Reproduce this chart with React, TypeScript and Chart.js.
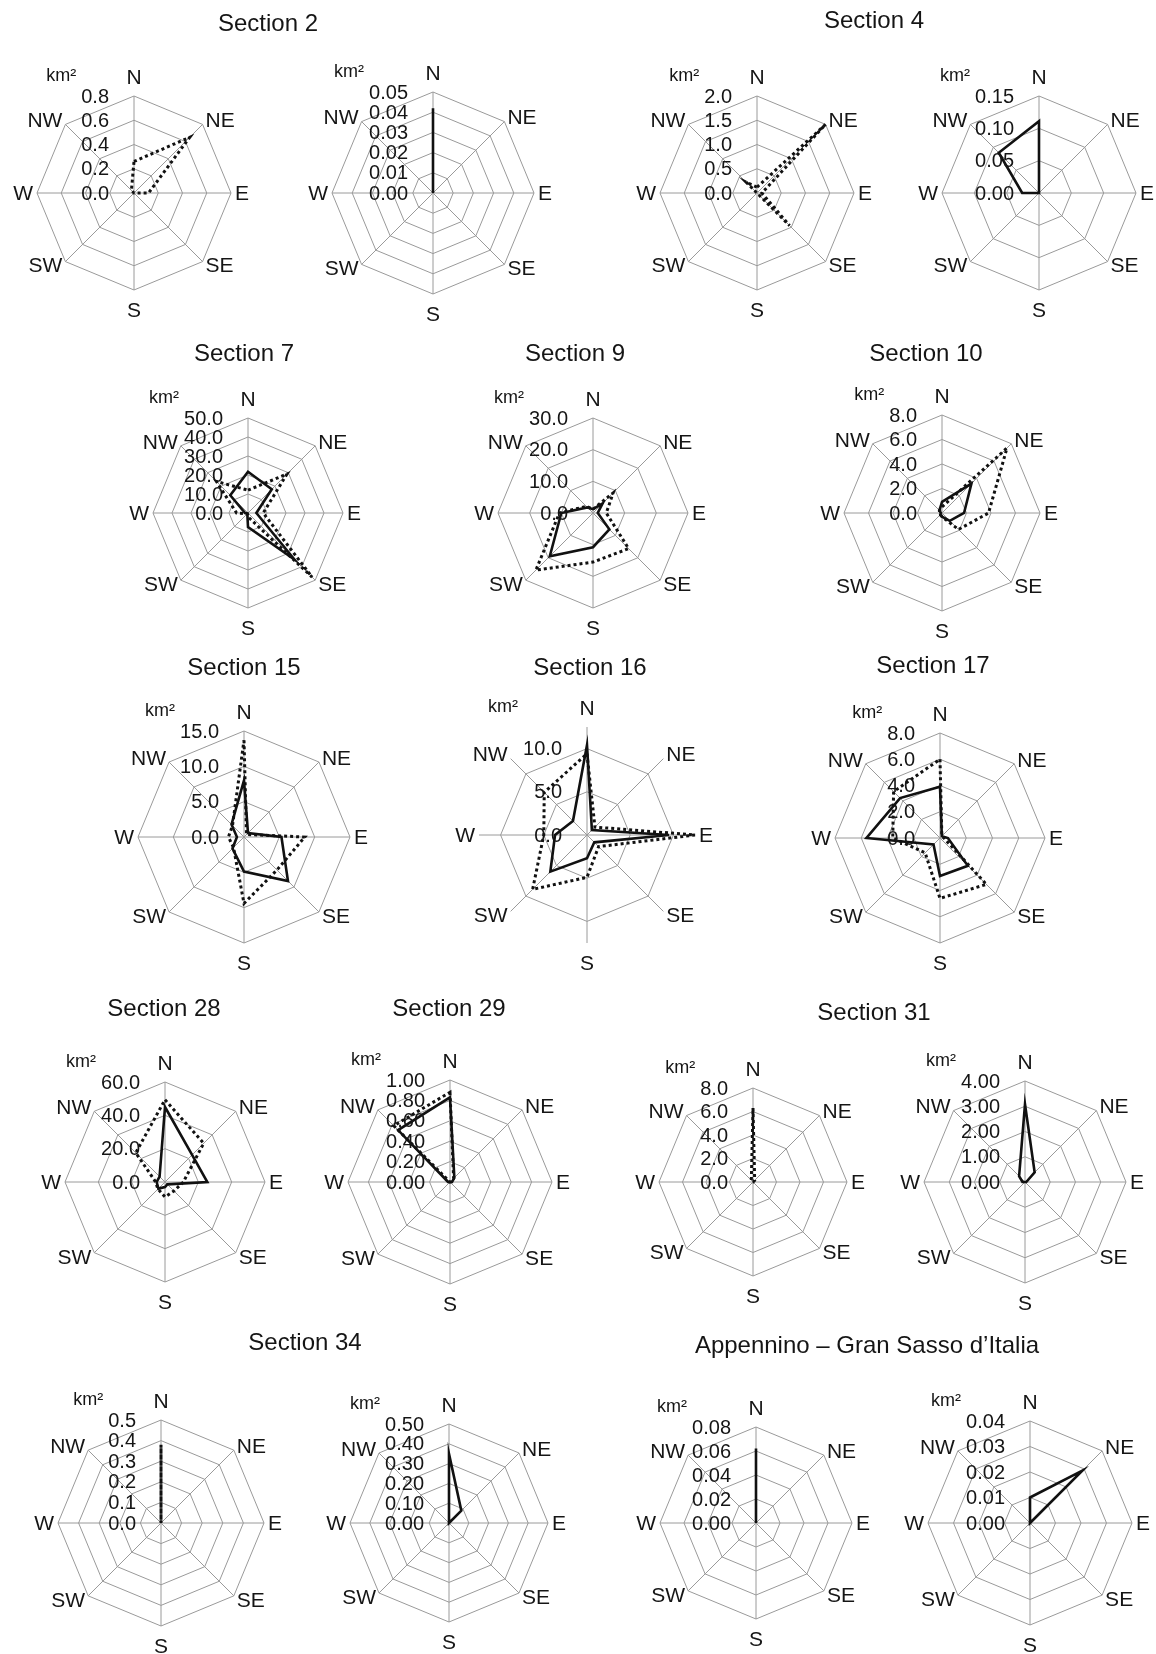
import React, { useEffect, useRef } from "react";
import { Chart, registerables } from "chart.js";
Chart.register(...registerables);

const FONT = '"Liberation Sans", Arial, Helvetica, sans-serif';
const TEXT = "#151515";
const GRID = "#9a9a9a";

const directions = ["N", "NE", "E", "SE", "S", "SW", "W", "NW"];

// ---- data (order: N, NE, E, SE, S, SW, W, NW) ----
const s2aDotted = [0.26, 0.65, 0.12, 0, 0, 0, 0, 0.03];
const s2aTicks = ["0.0", "0.2", "0.4", "0.6", "0.8"];

const s2bSolid = [0.042, 0, 0, 0, 0, 0, 0, 0];
const s2bTicks = ["0.00", "0.01", "0.02", "0.03", "0.04", "0.05"];

const s4aDotted = [0.12, 2.0, 0.1, 0.95, 0, 0, 0, 0.32];
const s4aTicks = ["0.0", "0.5", "1.0", "1.5", "2.0"];

const s4bSolid = [0.111, 0, 0, 0, 0, 0, 0.026, 0.088];
const s4bTicks = ["0.00", "0.05", "0.10", "0.15"];

const s7Solid = [21.7, 17.7, 4.4, 34.6, 7.4, 0.5, 1.5, 13.2];
const s7Dotted = [12, 29, 8, 47.7, 2, 0.5, 6, 23.5];
const s7Ticks = ["0.0", "10.0", "20.0", "30.0", "40.0", "50.0"];

const s9Solid = [1.2, 4.3, 1.5, 7.3, 10.8, 19.3, 10, 2.5];
const s9Dotted = [1.2, 9, 4.2, 15.9, 15.5, 25.5, 10.6, 3];
const s9Ticks = ["0.0", "10.0", "20.0", "30.0"];

const s10Solid = [0.9, 3.4, 1.8, 0.9, 0.3, 0.2, 0.1, 0.3];
const s10Dotted = [0.5, 7.5, 3.8, 1.9, 0.3, 0.2, 0.2, 0.3];
const s10Ticks = ["0.0", "2.0", "4.0", "6.0", "8.0"];

const s15Solid = [8.0, 0.8, 5.3, 8.8, 4.9, 2.3, 1.0, 2.5];
const s15Dotted = [13.7, 0.5, 8.6, 6.6, 9.4, 2.1, 2.2, 2.3];
const s15Ticks = ["0.0", "5.0", "10.0", "15.0"];

const s16Solid = [10.4, 0.8, 9.5, 1.2, 2.7, 6.0, 3.7, 2.3];
const s16Dotted = [9.4, 1.3, 12.5, 1.9, 4.9, 8.9, 5.0, 7.0];
const s16Ticks = ["0.0", "5.0", "10.0"];

const s17Solid = [3.9, 0.2, 0.6, 3.0, 2.9, 0.7, 5.6, 4.3];
const s17Dotted = [6.0, 0.2, 0.3, 5.0, 4.6, 1.6, 3.6, 5.0];
const s17Ticks = ["0.0", "2.0", "4.0", "6.0", "8.0"];

const s28Solid = [45, 23, 25.4, 2, 3, 5.6, 5, 4.6];
const s28Dotted = [49.4, 32.8, 11, 7.6, 9, 6, 5.6, 24.8];
const s28Ticks = ["0.0", "20.0", "40.0", "60.0"];

const s29Solid = [0.83, 0.06, 0.02, 0, 0, 0, 0.02, 0.72];
const s29Dotted = [0.88, 0.05, 0, 0, 0, 0, 0, 0.78];
const s29Ticks = ["0.00", "0.20", "0.40", "0.60", "0.80", "1.00"];

const s31aDotted = [6.3, 0.2, 0, 0, 0, 0, 0.1, 0.2];
const s31aTicks = ["0.0", "2.0", "4.0", "6.0", "8.0"];

const s31bSolid = [3.08, 0.54, 0.05, 0, 0, 0, 0.1, 0.33];
const s31bTicks = ["0.00", "1.00", "2.00", "3.00", "4.00"];

const s34aDotted = [0.38, 0, 0, 0, 0, 0, 0, 0];
const s34aTicks = ["0.0", "0.1", "0.2", "0.3", "0.4", "0.5"];

const s34bSolid = [0.35, 0.088, 0, 0, 0, 0, 0, 0];
const s34bTicks = ["0.00", "0.10", "0.20", "0.30", "0.40", "0.50"];

const ap1Solid = [0.062, 0, 0, 0, 0, 0, 0, 0];
const ap1Ticks = ["0.00", "0.02", "0.04", "0.06", "0.08"];

const ap2Solid = [0.01, 0.029, 0, 0, 0, 0, 0, 0];
const ap2Ticks = ["0.00", "0.01", "0.02", "0.03", "0.04"];

const titles: { text: string; x: number; y: number }[] = [
  { text: "Section 2", x: 268, y: 23 },
  { text: "Section 4", x: 874, y: 20 },
  { text: "Section 7", x: 244, y: 353 },
  { text: "Section 9", x: 575, y: 353 },
  { text: "Section 10", x: 926, y: 353 },
  { text: "Section 15", x: 244, y: 667 },
  { text: "Section 16", x: 590, y: 667 },
  { text: "Section 17", x: 933, y: 665 },
  { text: "Section 28", x: 164, y: 1008 },
  { text: "Section 29", x: 449, y: 1008 },
  { text: "Section 31", x: 874, y: 1012 },
  { text: "Section 34", x: 305, y: 1342 },
  { text: "Appennino \u2013 Gran Sasso d\u2019Italia", x: 867, y: 1345 },
];

type Panel = {
  cx: number;
  cy: number;
  r: number;
  ticks: string[];
  max: number;
  step: number;
  dotted?: number[];
  solid?: number[];
};

const panels: Panel[] = [
  { cx: 134, cy: 193, r: 97, ticks: s2aTicks, max: 0.8, step: 0.2, dotted: s2aDotted },
  { cx: 433, cy: 193, r: 101, ticks: s2bTicks, max: 0.05, step: 0.01, solid: s2bSolid },
  { cx: 757, cy: 193, r: 97, ticks: s4aTicks, max: 2.0, step: 0.5, dotted: s4aDotted },
  { cx: 1039, cy: 193, r: 97, ticks: s4bTicks, max: 0.15, step: 0.05, solid: s4bSolid },

  { cx: 248, cy: 513, r: 95, ticks: s7Ticks, max: 50, step: 10, solid: s7Solid, dotted: s7Dotted },
  { cx: 593, cy: 513, r: 95, ticks: s9Ticks, max: 30, step: 10, solid: s9Solid, dotted: s9Dotted },
  { cx: 942, cy: 513, r: 98, ticks: s10Ticks, max: 8, step: 2, solid: s10Solid, dotted: s10Dotted },

  { cx: 244, cy: 837, r: 106, ticks: s15Ticks, max: 15, step: 5, solid: s15Solid, dotted: s15Dotted },
  { cx: 587, cy: 835, r: 108, ticks: s16Ticks, max: 12.5, step: 5, solid: s16Solid, dotted: s16Dotted },
  { cx: 940, cy: 838, r: 105, ticks: s17Ticks, max: 8, step: 2, solid: s17Solid, dotted: s17Dotted },

  { cx: 165, cy: 1182, r: 100, ticks: s28Ticks, max: 60, step: 20, solid: s28Solid, dotted: s28Dotted },
  { cx: 450, cy: 1182, r: 102, ticks: s29Ticks, max: 1.0, step: 0.2, solid: s29Solid, dotted: s29Dotted },
  { cx: 753, cy: 1182, r: 94, ticks: s31aTicks, max: 8, step: 2, dotted: s31aDotted },
  { cx: 1025, cy: 1182, r: 101, ticks: s31bTicks, max: 4, step: 1, solid: s31bSolid },

  { cx: 161, cy: 1523, r: 103, ticks: s34aTicks, max: 0.5, step: 0.1, dotted: s34aDotted },
  { cx: 449, cy: 1523, r: 99, ticks: s34bTicks, max: 0.5, step: 0.1, solid: s34bSolid },
  { cx: 756, cy: 1523, r: 96, ticks: ap1Ticks, max: 0.08, step: 0.02, solid: ap1Solid },
  { cx: 1030, cy: 1523, r: 102, ticks: ap2Ticks, max: 0.04, step: 0.01, solid: ap2Solid },
];

const PAD = 70;

function RadarPanel({ p }: { p: Panel }) {
  const ref = useRef<HTMLCanvasElement>(null);
  const size = 2 * p.r + 2 * PAD;
  useEffect(() => {
    if (!ref.current) return;
    const gridTop = parseFloat(p.ticks[p.ticks.length - 1]);
    const datasets: any[] = [];
    if (p.solid) {
      datasets.push({
        label: "solid",
        data: p.solid,
        borderColor: "#111",
        backgroundColor: "rgba(0,0,0,0)",
        borderWidth: 2.6,
        pointRadius: 0,
        pointHoverRadius: 0,
        fill: false,
        borderJoinStyle: "miter",
      });
    }
    if (p.dotted) {
      datasets.push({
        label: "dotted",
        data: p.dotted,
        borderColor: "#111",
        backgroundColor: "rgba(0,0,0,0)",
        borderWidth: 3,
        borderDash: [3, 3],
        borderCapStyle: "butt",
        pointRadius: 0,
        pointHoverRadius: 0,
        fill: false,
        borderJoinStyle: "miter",
      });
    }
    const labelPlugin = {
      id: "compassLabels",
      afterDraw(chart: any) {
        const s = chart.scales.r;
        const ctx = chart.ctx;
        const R = s.drawingArea;
        ctx.save();
        ctx.fillStyle = TEXT;
        // direction labels
        ctx.font = `21px ${FONT}`;
        directions.forEach((lab, i) => {
          const v = s.getPointPosition(i, R);
          let x = v.x;
          let y = v.y;
          let align: CanvasTextAlign = "center";
          if (i === 0) { y -= 19; }
          else if (i === 4) { y += 20; }
          else if (i === 2) { align = "left"; x += 4; }
          else if (i === 6) { align = "right"; x -= 4; }
          else if (i === 1) { align = "left"; x += 3; y -= 4; }
          else if (i === 7) { align = "right"; x -= 3; y -= 4; }
          else if (i === 3) { align = "left"; x += 3; y += 4; }
          else if (i === 5) { align = "right"; x -= 3; y += 4; }
          ctx.textAlign = align;
          ctx.textBaseline = "middle";
          ctx.fillText(lab, x, y + 1);
        });
        // tick labels
        ctx.font = `20px ${FONT}`;
        ctx.textAlign = "right";
        ctx.textBaseline = "middle";
        let maxW = 0;
        p.ticks.forEach((t) => {
          const d = s.getDistanceFromCenterForValue(parseFloat(t));
          ctx.fillText(t, s.xCenter - 25, s.yCenter - d + 1);
          maxW = Math.max(maxW, ctx.measureText(t).width);
        });
        // unit label
        ctx.font = `18px ${FONT}`;
        ctx.textAlign = "right";
        ctx.fillText("km\u00B2", s.xCenter - 25 - maxW - 5, s.yCenter - R - 20);
        ctx.restore();
      },
    };
    const chart = new Chart(ref.current, {
      type: "radar",
      data: { labels: directions, datasets },
      options: {
        responsive: false,
        animation: false,
        devicePixelRatio: 1,
        layout: { padding: PAD },
        plugins: { legend: { display: false }, tooltip: { enabled: false } },
        elements: { line: { tension: 0 } },
        scales: {
          r: {
            min: 0,
            max: p.max,
            ticks: { display: false, stepSize: p.step },
            grid: {
              circular: false,
              lineWidth: 1,
              color: (c: any) =>
                c.tick && c.tick.value > gridTop + 1e-9 ? "rgba(0,0,0,0)" : GRID,
            },
            angleLines: { color: GRID, lineWidth: 1 },
            pointLabels: { display: false },
          },
        },
      } as any,
      plugins: [labelPlugin],
    });
    return () => chart.destroy();
  }, []);
  return (
    <canvas
      ref={ref}
      width={size}
      height={size}
      style={{ position: "absolute", left: p.cx - size / 2, top: p.cy - size / 2 }}
    />
  );
}

export default function App() {
  return (
    <div
      style={{
        position: "absolute",
        left: 0,
        top: 0,
        width: 1156,
        height: 1654,
        background: "#fff",
        overflow: "hidden",
      }}
    >
      {panels.map((p, i) => (
        <RadarPanel key={i} p={p} />
      ))}
      {titles.map((t, i) => (
        <div
          key={"t" + i}
          style={{
            position: "absolute",
            left: t.x - 250,
            width: 500,
            top: t.y - 15,
            height: 30,
            lineHeight: "30px",
            textAlign: "center",
            fontFamily: FONT,
            fontSize: 24,
            color: TEXT,
            whiteSpace: "nowrap",
          }}
        >
          {t.text}
        </div>
      ))}
    </div>
  );
}
